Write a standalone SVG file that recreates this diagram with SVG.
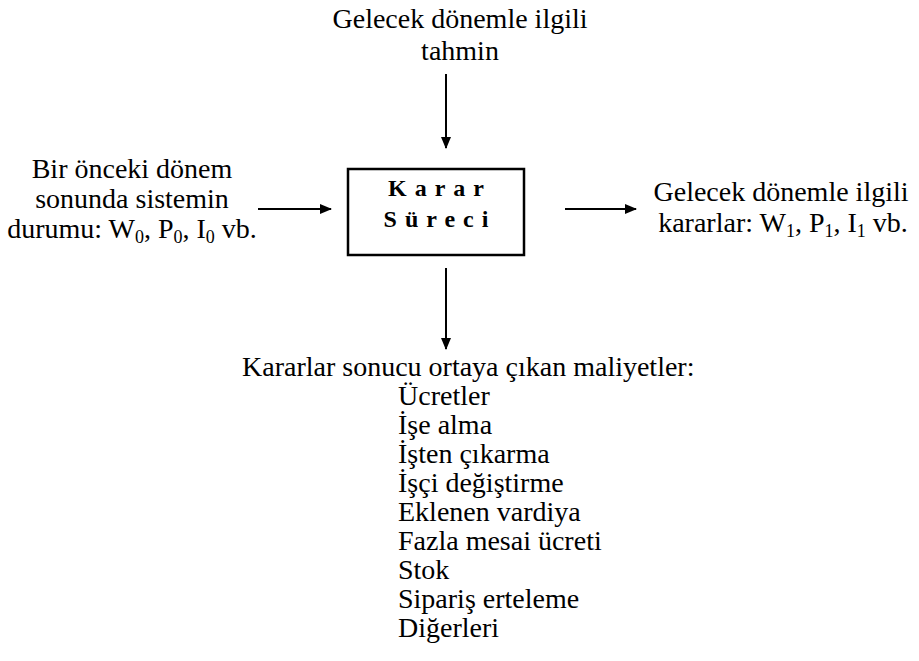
<svg xmlns="http://www.w3.org/2000/svg" width="919" height="661" viewBox="0 0 919 661">
  <style>
    .t { font-size: 28px; fill: #000; }
    .c { text-anchor: middle; }
    .b { font-weight: bold; font-size: 24px; letter-spacing: 8px; }
    .sub { font-size: 18px; }
    .conn { stroke: #000; stroke-width: 2; fill: none; marker-end: url(#arrow); }
    .box { fill: #fff; stroke: #000; stroke-width: 2.5; }
  </style>
  <defs>
    <marker id="arrow" viewBox="0 0 12 10" refX="11" refY="5" markerWidth="6" markerHeight="5" orient="auto" markerUnits="strokeWidth">
      <path d="M0,0 L12,5 L0,10 Z" fill="#000"/>
    </marker>
  </defs>
  <rect width="919" height="661" fill="#fff"/>

  <!-- connectors -->
  <g id="connectors">
    <line class="conn" x1="446" y1="74" x2="446" y2="148"/>
    <line class="conn" x1="258" y1="209" x2="331" y2="209"/>
    <line class="conn" x1="565" y1="209" x2="636" y2="209"/>
    <line class="conn" x1="446" y1="268" x2="446" y2="349"/>
  </g>

  <g font-family="Liberation Serif, serif">
    <!-- forecast input -->
    <g id="forecast">
      <text class="t c" x="460" y="28">Gelecek dönemle ilgili</text>
      <text class="t c" x="460" y="60">tahmin</text>
    </g>

    <!-- previous state -->
    <g id="previous-state">
      <text class="t c" x="132" y="178">Bir önceki dönem</text>
      <text class="t c" x="132" y="208">sonunda sistemin</text>
      <text class="t c" x="132" y="238">durumu: W<tspan class="sub" dy="5">0</tspan><tspan dy="-5">, P</tspan><tspan class="sub" dy="5">0</tspan><tspan dy="-5">, I</tspan><tspan class="sub" dy="5">0</tspan><tspan dy="-5"> vb.</tspan></text>
    </g>

    <!-- decision process -->
    <g id="decision">
      <rect class="box" x="348" y="169" width="176" height="86"/>
      <text class="t c b" x="440" y="196">Karar</text>
      <text class="t c b" x="440" y="227">Süreci</text>
    </g>

    <!-- decisions for next period -->
    <g id="decisions-out">
      <text class="t c" x="781" y="201">Gelecek dönemle ilgili</text>
      <text class="t c" x="783" y="232">kararlar: W<tspan class="sub" dy="5">1</tspan><tspan dy="-5">, P</tspan><tspan class="sub" dy="5">1</tspan><tspan dy="-5">, I</tspan><tspan class="sub" dy="5">1</tspan><tspan dy="-5"> vb.</tspan></text>
    </g>

    <!-- resulting costs -->
    <g id="costs">
      <text class="t" x="242" y="376">Kararlar sonucu ortaya çıkan maliyetler:</text>
      <text class="t" x="398" y="405">Ücretler</text>
      <text class="t" x="398" y="434">İşe alma</text>
      <text class="t" x="398" y="463">İşten çıkarma</text>
      <text class="t" x="398" y="492">İşçi değiştirme</text>
      <text class="t" x="398" y="521">Eklenen vardiya</text>
      <text class="t" x="398" y="550">Fazla mesai ücreti</text>
      <text class="t" x="398" y="579">Stok</text>
      <text class="t" x="398" y="608">Sipariş erteleme</text>
      <text class="t" x="398" y="637">Diğerleri</text>
    </g>
  </g>
</svg>
